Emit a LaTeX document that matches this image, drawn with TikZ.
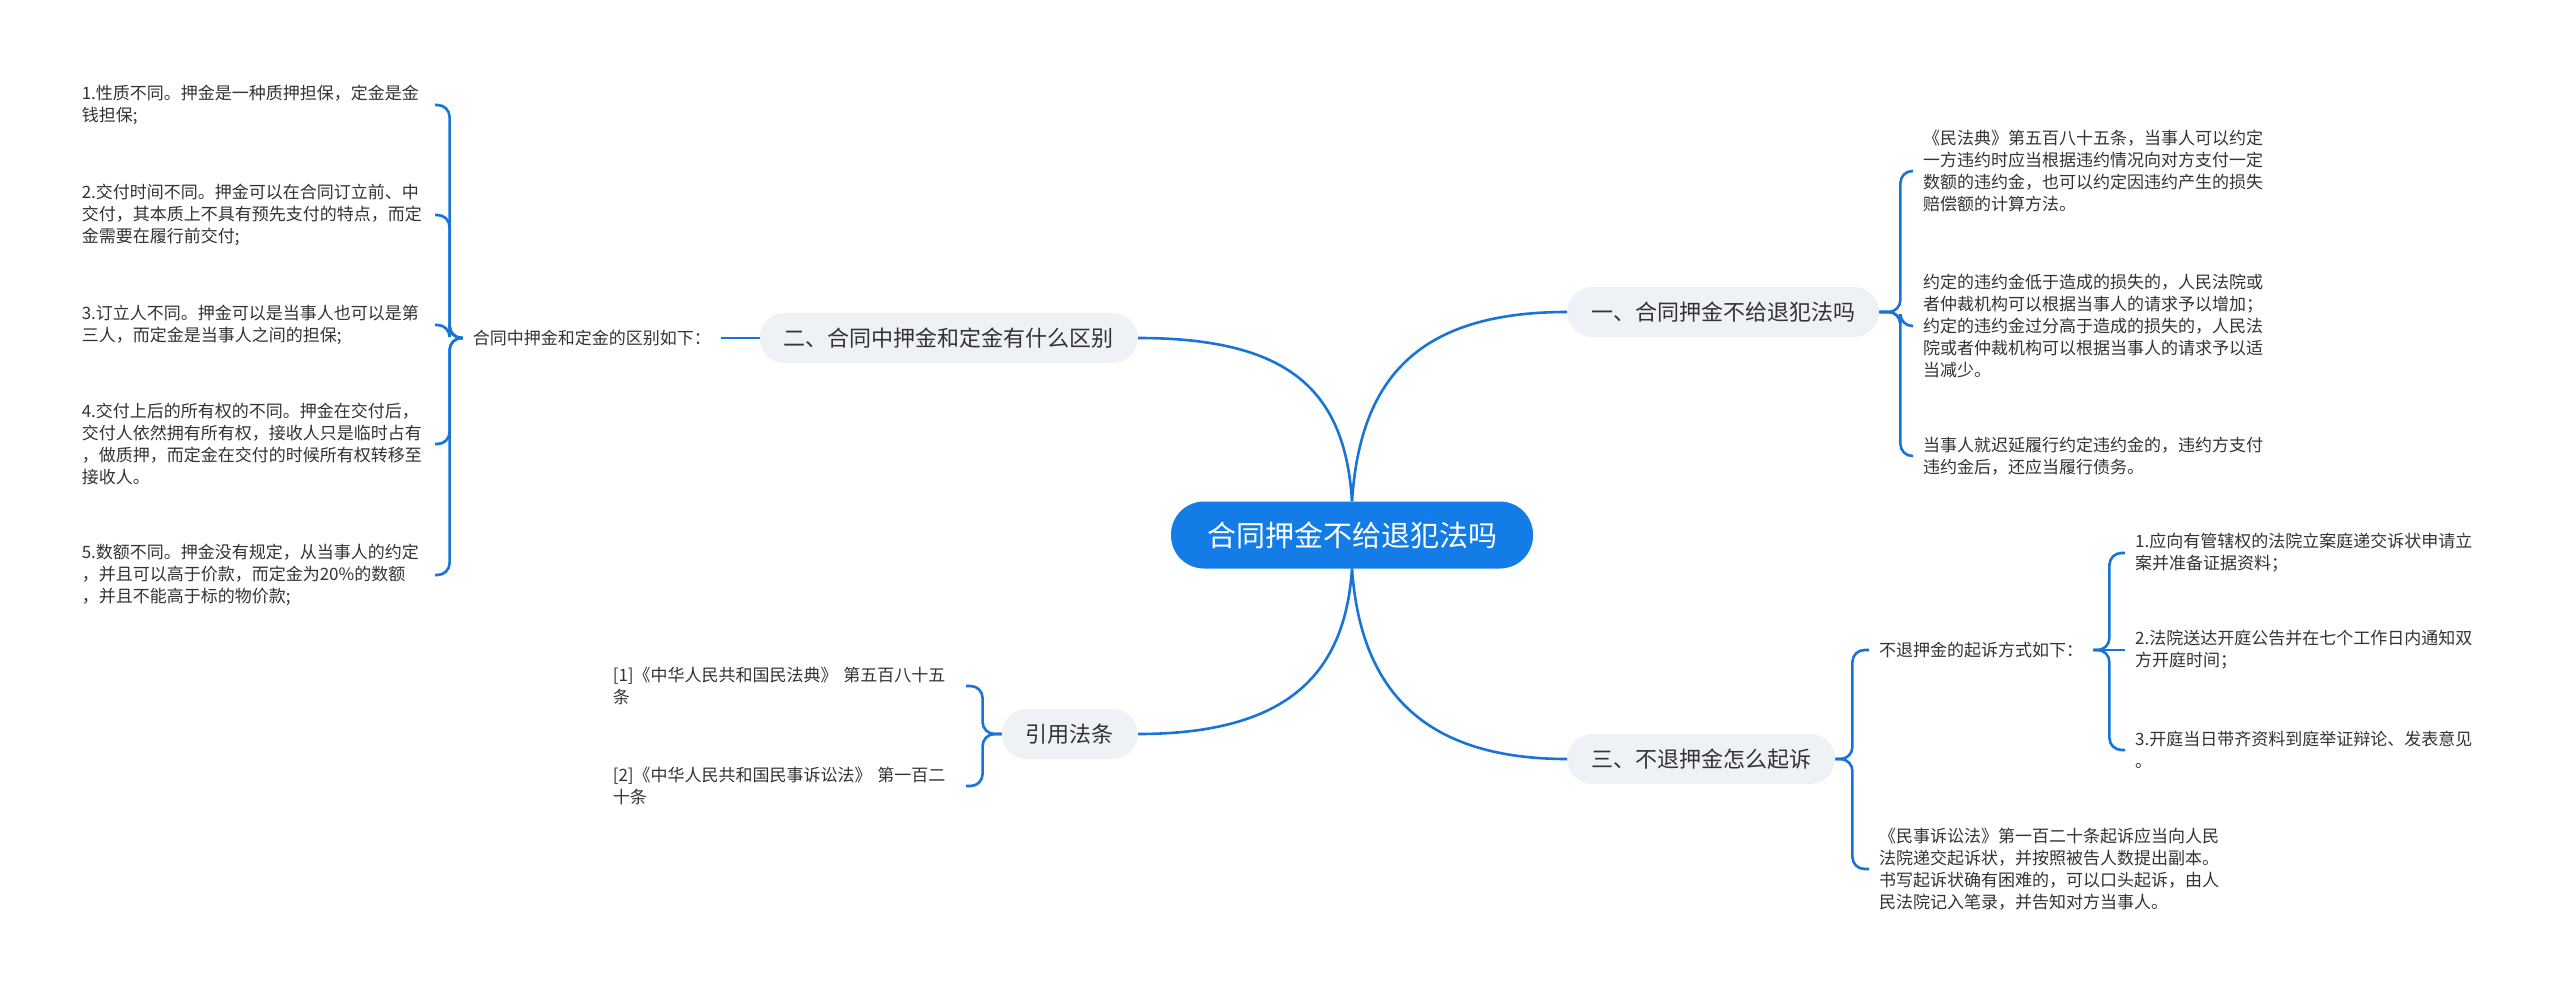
\documentclass[tikz,border=0pt]{standalone}
\usepackage{fontspec}
\usepackage{xcolor}
\newfontfamily\cjk{Noto Sans CJK SC}
\definecolor{akarbiru}{RGB}{19,124,230}
\definecolor{garisbiru}{RGB}{24,116,214}
\definecolor{abu}{RGB}{238,241,245}
\definecolor{teks}{RGB}{51,51,51}
\tikzset{
  akar/.style={fill=akarbiru, text=white, rounded corners=33pt, minimum width=362pt,
    minimum height=67pt, inner sep=0pt, font=\cjk\fontsize{29}{34}\selectfont},
  cabang/.style={fill=abu, text=teks, rounded corners=25pt, minimum height=50pt,
    inner xsep=24pt, inner ysep=0pt, font=\cjk\fontsize{22}{26}\selectfont},
  daun/.style={text=teks, align=left, text width=343pt, inner xsep=10pt, inner ysep=2pt,
    font=\cjk\fontsize{17}{22}\selectfont},
  judul/.style={text=teks, inner xsep=10pt, inner ysep=2pt, font=\cjk\fontsize{17}{22}\selectfont},
  garis/.style={draw=garisbiru, line width=2.6pt},
  kurung/.style={garis, rounded corners=12pt}
}

\begin{document}
\begin{tikzpicture}[x=1pt, y=-1pt]

    % Latar
    \fill[white] (0,0) rectangle (2560,995);
    \useasboundingbox (0,0) rectangle (2560,995);

    % Simpul utama
    \node[akar] (akar) at (1352,535) {合同押金不给退犯法吗};

    % Cabang
    \node[cabang, anchor=west] (b1) at (1567,312) {一、合同押金不给退犯法吗};
    \node[cabang, anchor=east] (b2) at (1138,338) {二、合同中押金和定金有什么区别};
    \node[cabang, anchor=west] (b3) at (1567,759) {三、不退押金怎么起诉};
    \node[cabang, anchor=east] (b4) at (1138,734) {引用法条};

    % Garis dari simpul utama
    \draw[garis] (akar.north) .. controls +(8,-122) and +(-150,0) .. (b1.west);
    \draw[garis] (akar.north) .. controls +(-7,-112) and +(150,0) .. (b2.east);
    \draw[garis] (akar.south) .. controls +(8,115) and +(-150,0) .. (b3.west);
    \draw[garis] (akar.south) .. controls +(-7,105) and +(150,0) .. (b4.east);

    % Isi cabang satu
    \node[daun, anchor=west] (c11) at (1913,171) {《民法典》第五百八十五条，当事人可以约定\\一方违约时应当根据违约情况向对方支付一定\\数额的违约金，也可以约定因违约产生的损失\\赔偿额的计算方法。};
    \node[daun, anchor=west] (c12) at (1913,326) {约定的违约金低于造成的损失的，人民法院或\\者仲裁机构可以根据当事人的请求予以增加；\\约定的违约金过分高于造成的损失的，人民法\\院或者仲裁机构可以根据当事人的请求予以适\\当减少。};
    \node[daun, anchor=west] (c13) at (1913,456) {当事人就迟延履行约定违约金的，违约方支付\\违约金后，还应当履行债务。};
    \foreach \n in {c11,c12,c13}
        \draw[kurung] (b1.east) -- ++(21,0) |- (\n.west);

    % Isi cabang dua
    \node[judul, anchor=east] (j2) at (721,338) {合同中押金和定金的区别如下：};
    \draw[garis] (b2.west) -- (j2.east);
    \node[daun, anchor=east] (d1) at (435,105) {1.性质不同。押金是一种质押担保，定金是金\\钱担保;};
    \node[daun, anchor=east] (d2) at (435,215) {2.交付时间不同。押金可以在合同订立前、中\\交付，其本质上不具有预先支付的特点，而定\\金需要在履行前交付;};
    \node[daun, anchor=east] (d3) at (435,325) {3.订立人不同。押金可以是当事人也可以是第\\三人，而定金是当事人之间的担保;};
    \node[daun, anchor=east] (d4) at (435,444) {4.交付上后的所有权的不同。押金在交付后，\\交付人依然拥有所有权，接收人只是临时占有\\，做质押，而定金在交付的时候所有权转移至\\接收人。};
    \node[daun, anchor=east] (d5) at (435,575) {5.数额不同。押金没有规定，从当事人的约定\\，并且可以高于价款，而定金为20\%的数额\\，并且不能高于标的物价款;};
    \foreach \n in {d1,d2,d3,d4,d5}
        \draw[kurung] (j2.west) -- ++(-13,0) |- (\n.east);

    % Isi cabang tiga
    \node[judul, anchor=west] (j3) at (1869,650) {不退押金的起诉方式如下：};
    \node[daun, anchor=west] (g) at (1869,869) {《民事诉讼法》第一百二十条起诉应当向人民\\法院递交起诉状，并按照被告人数提出副本。\\书写起诉状确有困难的，可以口头起诉，由人\\民法院记入笔录，并告知对方当事人。};
    \foreach \n in {j3,g}
        \draw[kurung] (b3.east) -- ++(17,0) |- (\n.west);

    \node[daun, anchor=west] (f1) at (2125,553) {1.应向有管辖权的法院立案庭递交诉状申请立\\案并准备证据资料；};
    \node[daun, anchor=west] (f2) at (2125,650) {2.法院送达开庭公告并在七个工作日内通知双\\方开庭时间；};
    \node[daun, anchor=west] (f3) at (2125,750) {3.开庭当日带齐资料到庭举证辩论、发表意见\\。};
    \draw[garis] (j3.east) -- (f2.west);
    \foreach \n in {f1,f3}
        \draw[kurung] (j3.east) -- ++(16,0) |- (\n.west);

    % Isi cabang empat
    \node[daun, anchor=east] (e1) at (966,686) {[1]《中华人民共和国民法典》 第五百八十五\\条};
    \node[daun, anchor=east] (e2) at (966,786) {[2]《中华人民共和国民事诉讼法》 第一百二\\十条};
    \foreach \n in {e1,e2}
        \draw[kurung] (b4.west) -- ++(-19,0) |- (\n.east);

\end{tikzpicture}
\end{document}
